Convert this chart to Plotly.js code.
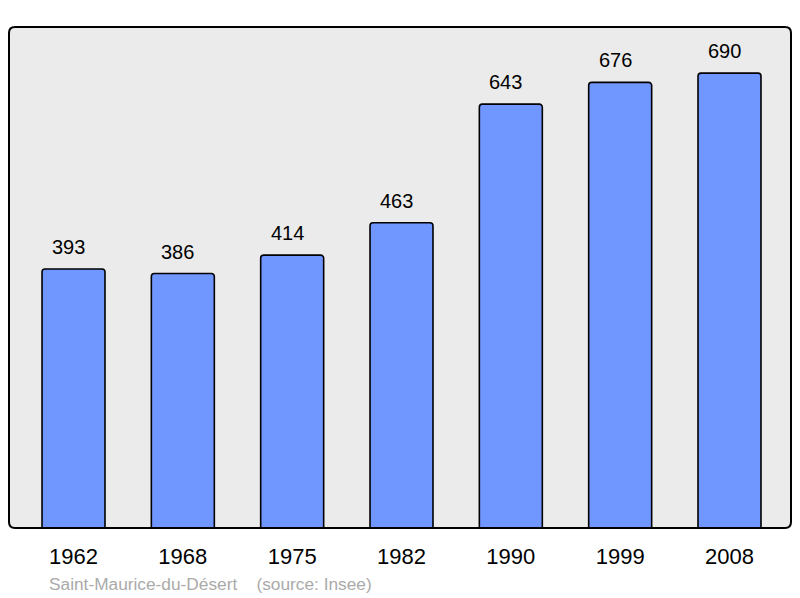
<!DOCTYPE html>
<html>
<head>
<meta charset="utf-8">
<script src="https://cdn.plot.ly/plotly-3.0.1.min.js"></script>
<style>html,body{margin:0;padding:0;background:#fff;}#chart{width:800px;height:598px;}</style>
</head>
<body>
<div id="chart"></div>
<script>
const years = ['1962', '1968', '1975', '1982', '1990', '1999', '2008'];
const population = [393, 386, 414, 463, 643, 676, 690];
const footerText = 'Saint-Maurice-du-Désert \u00a0\u00a0 (source: Insee)';

const FONT = 'Liberation Sans, Arial, sans-serif';
const W = 782, H = 501, r = 6;
const rx = r / W, ry = r / H;
const borderPath = `M ${rx} 0 L ${1 - rx} 0 Q 1 0 1 ${ry} L 1 ${1 - ry} Q 1 1 ${1 - rx} 1 L ${rx} 1 Q 0 1 0 ${1 - ry} L 0 ${ry} Q 0 0 ${rx} 0 Z`;

const trace = {
  type: 'bar',
  x: years,
  y: population,
  width: 0.576,
  marker: {color: '#7096ff', line: {color: '#000', width: 1.6}, cornerradius: 3},
  hoverinfo: 'none'
};

const annotations = years.map((yr, i) => ({
  x: i, y: population[i], xref: 'x', yref: 'y',
  text: String(population[i]), showarrow: false,
  yanchor: 'middle', yshift: 22, xshift: -5, font: {family: FONT, size: 20, color: '#000'}
}));
annotations.push({
  xref: 'paper', yref: 'paper', x: (47 - 9) / W, y: (528 - 584) / H,
  xanchor: 'left', yanchor: 'middle', showarrow: false,
  text: footerText, font: {family: FONT, size: 17.3, color: '#aaaaaa'}
});

const layout = {
  width: 800, height: 598,
  margin: {l: 9, r: 9, t: 27, b: 70},
  paper_bgcolor: '#fff',
  plot_bgcolor: '#ebebeb',
  showlegend: false,
  font: {family: FONT},
  xaxis: {
    type: 'category', range: [-0.59, 6.5625],
    showgrid: false, zeroline: false, showline: false, ticks: '',
    tickfont: {family: FONT, size: 22, color: '#000'},
    ticklabelstandoff: 13, fixedrange: true
  },
  yaxis: {
    range: [0, 760], showgrid: false, zeroline: false, showline: false,
    showticklabels: false, ticks: '', fixedrange: true
  },
  shapes: [{
    type: 'path', xref: 'paper', yref: 'paper', path: borderPath,
    line: {color: '#000', width: 2}, fillcolor: 'rgba(0,0,0,0)', layer: 'above'
  }],
  annotations: annotations
};

Plotly.newPlot('chart', [trace], layout, {displayModeBar: false, staticPlot: true});
</script>
</body>
</html>
